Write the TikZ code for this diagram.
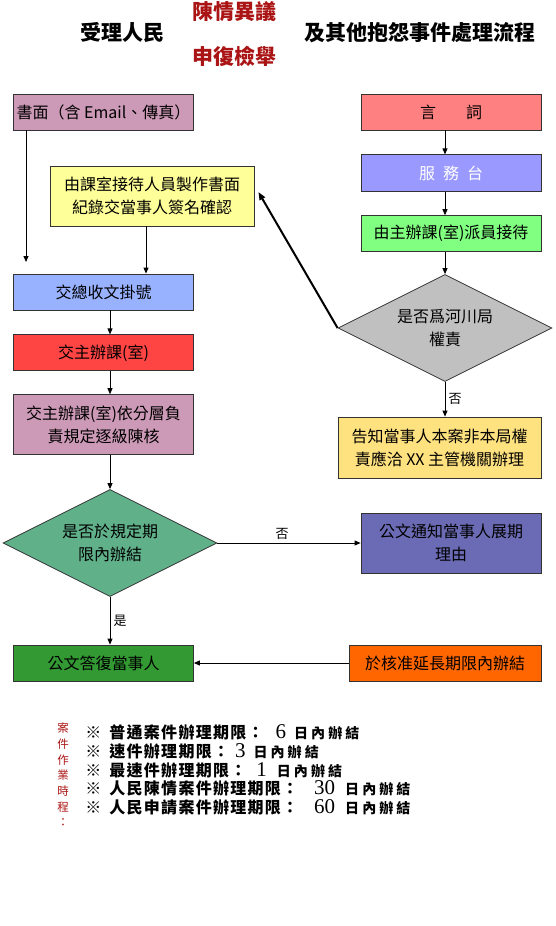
\documentclass[tikz,border=0pt]{standalone}
\usepackage{fontspec}
\usepackage{tikz}
\usetikzlibrary{positioning, arrows.meta, shapes.geometric}

\setmainfont{Noto Sans CJK TC}
\newfontfamily\rulefont[LetterSpace=8]{Noto Sans CJK TC}
\newfontfamily\tailfont[LetterSpace=22]{Noto Sans CJK TC}
\newfontfamily\digitfont{Liberation Serif}
\newcommand{\boxfont}{\fontsize{16}{23}\selectfont}

\definecolor{mauve}{RGB}{204,153,182}
\definecolor{salmon}{RGB}{255,128,128}
\definecolor{lavender}{RGB}{153,153,255}
\definecolor{mint}{RGB}{128,255,128}
\definecolor{silver}{RGB}{192,192,192}
\definecolor{gold}{RGB}{255,226,128}
\definecolor{lemon}{RGB}{255,255,153}
\definecolor{sky}{RGB}{153,178,255}
\definecolor{scarlet}{RGB}{255,68,68}
\definecolor{jade}{RGB}{96,176,138}
\definecolor{slate}{RGB}{107,107,181}
\definecolor{grass}{RGB}{51,153,51}
\definecolor{tangerine}{RGB}{255,102,0}
\definecolor{titlered}{RGB}{170,20,20}

\begin{document}
\begin{tikzpicture}[
			x=1pt, y=-1pt,
			box/.style={rectangle, draw=black!80, line width=0.8pt, minimum width=180pt, minimum height=36pt, inner sep=2pt, align=center, font=\boxfont},
			choice/.style={diamond, aspect=2, draw=black!80, line width=0.8pt, minimum width=214pt, minimum height=107pt, inner sep=0pt, align=center, font=\boxfont},
			title/.style={font=\fontsize{21}{25}\selectfont\bfseries},
			tag/.style={font=\fontsize{13}{15}\selectfont},
			rule/.style={anchor=west, inner sep=0pt, font=\fontsize{16}{18}\selectfont\rulefont\bfseries},
			line width=0.8pt,
			>={Triangle[length=6pt, width=5pt]}
			]
			\useasboundingbox (0,0) rectangle (556,926);
			
			% Titel
			\node[title] (t1) at (122,33) {受理人民};
			\node[title, text=titlered] (t2) at (234,12) {陳情異議};
			\node[title, text=titlered] (t3) at (234,56) {申復檢舉};
			\node[title] (t4) at (420,33) {及其他抱怨事件處理流程};
			
			% linke Spalte
			\node[box, fill=mauve] (written) at (103.5,112) {書面（含 Email、傳真）};
			\node[box, fill=lemon, minimum width=204pt, minimum height=60pt] (record) at (152,196) {由課室接待人員製作書面\\紀錄交當事人簽名確認};
			\node[box, fill=sky] (regist) at (103.5,292) {交總收文掛號};
			\node[box, fill=scarlet] (assign) [below=24pt of regist] {交主辦課(室)};
			\node[box, fill=mauve, minimum height=60pt] (review) [below=23pt of assign] {交主辦課(室)依分層負\\責規定逐級陳核};
			\node[choice, fill=jade] (judge) at (110,543) {是否於規定期\\限內辦結};
			\node[box, fill=grass] (reply) at (103.5,663) {公文答復當事人};
			\coordinate (wend) at (26,262);
			
			% rechte Spalte
			\node[box, fill=salmon] (oral) at (451,112) {言\hspace{30pt}詞};
			\node[box, fill=lavender, minimum height=37pt, text=white] (desk) [below=24pt of oral] {服\hspace{8pt}務\hspace{8pt}台};
			\node[box, fill=mint] (recept) [below=23pt of desk] {由主辦課(室)派員接待};
			\node[choice, fill=silver] (scope) at (445,328) {是否爲河川局\\權責};
			\node[box, fill=gold, minimum width=203pt, minimum height=61pt] (notify) at (439.5,447.5) {告知當事人本案非本局權\\責應洽 XX 主管機關辦理};
			\node[box, fill=slate, minimum height=60pt] (extend) at (451,543) {公文通知當事人展期\\理由};
			\node[box, fill=tangerine, minimum width=192pt] (approve) at (445,663) {於核准延長期限內辦結};
			
			% Pfeile
			\draw[->] (written.south -| wend) -- (wend);
			\draw[->] ([xshift=-6pt]record.south) -- ([xshift=-6pt]record.south |- regist.north);
			\draw[->] (regist.south -| judge) -- (assign.north -| judge);
			\draw[->] (assign.south -| judge) -- (review.north -| judge);
			\draw[->] (review.south -| judge) -- (judge.north);
			\draw[->] (judge.south) -- (reply.north -| judge) node[tag, midway, right] {是};
			\draw[->] (judge.east) -- (extend.west) node[tag, midway, above, xshift=-7pt] {否};
			\draw[->] (approve.west) -- (reply.east);
			
			\draw[->] (oral.south -| scope) -- (desk.north -| scope);
			\draw[->] (desk.south -| scope) -- (recept.north -| scope);
			\draw[->] (recept.south -| scope) -- (scope.north);
			\draw[->] (scope.south) -- (notify.north -| scope) node[tag, midway, right] {否};
			\draw[->, line width=2pt, >={Triangle[length=8pt, width=6pt]}] (scope.west) -- ([shift={(4pt,4pt)}]record.east);
			
			% Fristen
			\node[font=\fontsize{11.5}{15.7}\selectfont, text=titlered, align=center] (time) at (63,775) {案\\件\\作\\業\\時\\程\\：};
			\node[rule] (r1) at (85,732) {※\hspace{8pt}普通案件辦理期限：\hspace{12pt}{\digitfont\mdseries\fontsize{21}{21}\selectfont 6}\hspace{8pt}{\tailfont\fontsize{14}{15}\selectfont 日內辦結}};
			\node[rule] (r2) at (85,751) {※\hspace{8pt}速件辦理期限：\hspace{6pt}{\digitfont\mdseries\fontsize{21}{21}\selectfont 3}\hspace{8pt}{\tailfont\fontsize{14}{15}\selectfont 日內辦結}};
			\node[rule] (r3) at (85,770) {※\hspace{8pt}最速件辦理期限：\hspace{10pt}{\digitfont\mdseries\fontsize{21}{21}\selectfont 1}\hspace{10pt}{\tailfont\fontsize{14}{15}\selectfont 日內辦結}};
			\node[rule] (r4) at (85,788) {※\hspace{8pt}人民陳情案件辦理期限：\hspace{16pt}{\digitfont\mdseries\fontsize{21}{21}\selectfont 30}\hspace{10pt}{\tailfont\fontsize{14}{15}\selectfont 日內辦結}};
			\node[rule] (r5) at (85,807) {※\hspace{8pt}人民申請案件辦理期限：\hspace{16pt}{\digitfont\mdseries\fontsize{21}{21}\selectfont 60}\hspace{10pt}{\tailfont\fontsize{14}{15}\selectfont 日內辦結}};
			
		\end{tikzpicture}
\end{document}
